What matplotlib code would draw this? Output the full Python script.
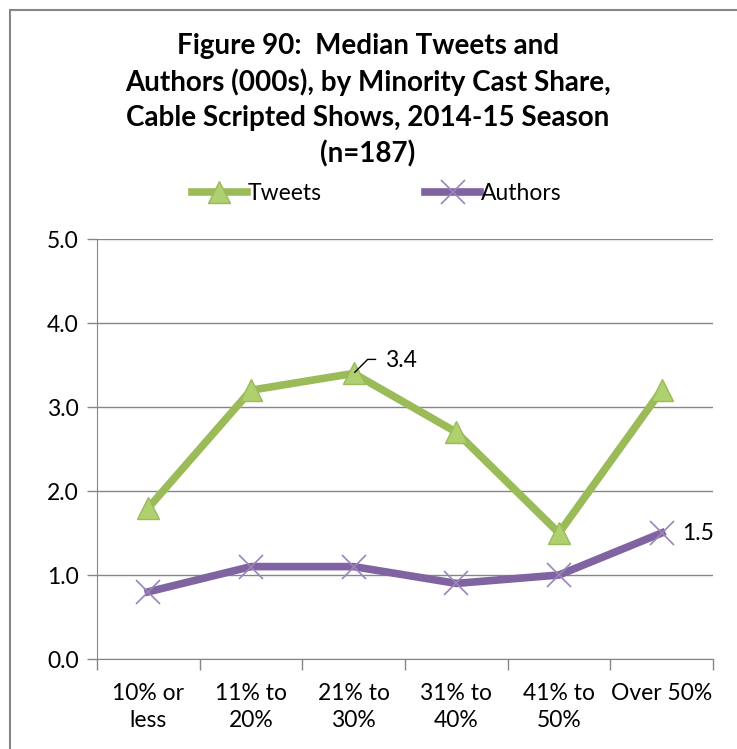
import numpy as np
import matplotlib.pyplot as plt
from matplotlib.patches import Rectangle

plt.rcParams['font.family'] = ['Lato', 'DejaVu Sans']

categories = ['10% or\nless', '11% to\n20%', '21% to\n30%', '31% to\n40%', '41% to\n50%', 'Over 50%']
tweets = [1.8, 3.2, 3.4, 2.7, 1.5, 3.2]
authors = [0.8, 1.1, 1.1, 0.9, 1.0, 1.5]

green = '#9BBB59'
purple = '#8064A2'
grid = '#868686'

fig = plt.figure(figsize=(7.37, 7.49), dpi=100)
ax = fig.add_axes([97/737, 1-659/749, (713-97)/737, (659-239)/749])

x = np.arange(len(categories)) + 0.5
l1, = ax.plot(x, tweets, color=green, lw=5.5, marker='^', ms=16,
              mfc='#AFD06E', mec='#9BBB59', mew=1, label='Tweets', zorder=3)
l2, = ax.plot(x, authors, color=purple, lw=5.5, marker='x', ms=17,
              mec='#9A85BA', mew=1.2, label='Authors', zorder=3)

ax.set_xlim(0, 6)
ax.set_ylim(0, 5)
yt = np.arange(0, 5.1, 1)
ax.set_yticks(yt)
ax.set_yticklabels([f'{v:.1f}' for v in yt])
ax.set_xticks(np.arange(0, 7))
ax.set_xticklabels([])
ax.set_xticks(x, minor=True)
ax.set_xticklabels(categories, minor=True, linespacing=1.4)
ax.tick_params(axis='x', which='minor', length=0, pad=17, labelsize=16.5)
ax.tick_params(axis='x', which='major', length=8, color=grid, width=1)
ax.tick_params(axis='y', length=7, color=grid, width=1, labelsize=16.5, pad=6)
ax.yaxis.grid(True, color=grid, lw=1)
ax.set_axisbelow(True)
for s in ['top', 'right']:
    ax.spines[s].set_visible(False)
for s in ['left', 'bottom']:
    ax.spines[s].set_color(grid)

# data labels
ax.annotate('', xy=(x[2], tweets[2]), xytext=(22, 14), textcoords='offset pixels',
            arrowprops=dict(arrowstyle='-', color='black', lw=1,
                            connectionstyle='angle,angleA=0,angleB=45,rad=0',
                            shrinkA=0, shrinkB=1))
ax.annotate('3.4', xy=(x[2], tweets[2]), xytext=(31, 13), textcoords='offset pixels',
            fontsize=16.5, va='center', ha='left')
ax.annotate('1.5', xy=(x[5], authors[5]), xytext=(20, 0), textcoords='offset pixels',
            fontsize=16.5, va='center', ha='left')

fig.text(368/737, 1-100/749,
         'Figure 90:  Median Tweets and\nAuthors (000s), by Minority Cast Share,\n'
         'Cable Scripted Shows, 2014-15 Season\n(n=187)',
         ha='center', va='center', fontsize=20, fontweight='bold', linespacing=1.42)

fig.legend(handles=[l1, l2], loc='center', bbox_to_anchor=(377/737, 1-194/749),
           ncol=2, frameon=False, fontsize=16.5, handlelength=2.4, handletextpad=0.05,
           columnspacing=4.5)

fig.patches.append(Rectangle((10/737, -0.1), 1.2, 1.1 - 10/749, transform=fig.transFigure,
                             fill=False, edgecolor=grid, lw=1.5))

fig.savefig('out.png', dpi=100)
